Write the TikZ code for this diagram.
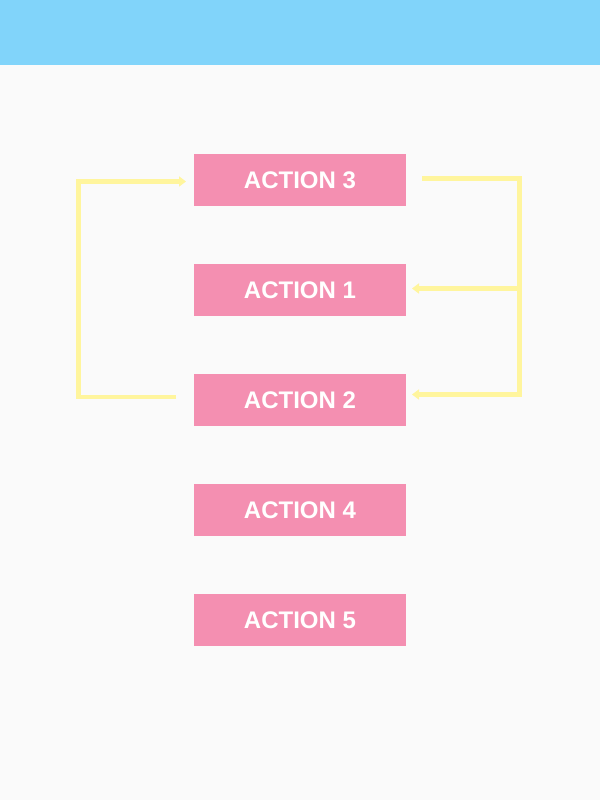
\documentclass[tikz,border=0pt]{standalone}
\usepackage{fontspec}
\setmainfont{Liberation Sans}
\usetikzlibrary{arrows.meta}
\definecolor{headerblue}{HTML}{81D4FA}
\definecolor{bggray}{HTML}{FAFAFA}
\definecolor{boxpink}{HTML}{F48FB1}
\definecolor{lineyellow}{HTML}{FFF59D}
\tikzset{
  actionbox/.style={fill=boxpink, draw=none, minimum width=212pt, minimum height=52pt,
    inner sep=0pt, text=white, font=\fontsize{24}{28}\selectfont\bfseries},
  flowline/.style={draw=lineyellow, line width=4.7pt, line join=miter},
  flowarrow/.style={flowline, -{Triangle[width=10pt,length=7pt]}}
}
\begin{document}
\begin{tikzpicture}[x=1pt,y=-1pt]
  \fill[bggray] (0,0) rectangle (600,800);
  \useasboundingbox (0,0) rectangle (600,800);
  \fill[headerblue] (0,0) rectangle (600,65);

  \node[actionbox] (a3) at (300,180) {ACTION 3};
  \node[actionbox] (a1) at (300,290) {ACTION 1};
  \node[actionbox] (a2) at (300,400) {ACTION 2};
  \node[actionbox] (a4) at (300,510) {ACTION 4};
  \node[actionbox] (a5) at (300,620) {ACTION 5};

  % left loop: from action 2 back to action 3
  \coordinate (l0) at (176,397);
  \coordinate (l1) at (78.5,397);
  \coordinate (l2) at (78.5,181.5);
  \coordinate (l3) at (186,181.5);
  \draw[flowarrow] (l0) -- (l1) -- (l2) -- (l3);

  % right loop: from action 3 to actions 1 and 2
  \coordinate (r0) at (422,178.5);
  \coordinate (r1) at (519.5,178.5);
  \coordinate (r2) at (519.5,394.5);
  \coordinate (r3) at (412,394.5);
  \coordinate (rm) at (519.5,288.5);
  \coordinate (rt) at (412,288.5);
  \draw[flowarrow] (r0) -- (r1) -- (r2) -- (r3);
  \draw[flowarrow] (rm) -- (rt);
\end{tikzpicture}
\end{document}
